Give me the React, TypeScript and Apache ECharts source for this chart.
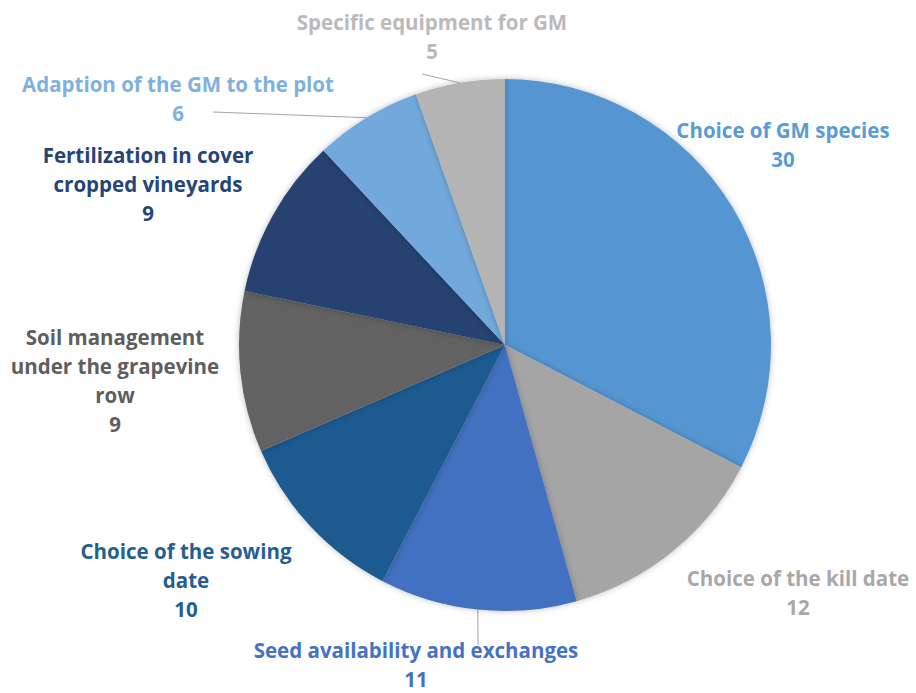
import React, { useEffect, useRef } from "react";
import * as echarts from "echarts";

const categories = [
  "Choice of GM species",
  "Choice of the kill date",
  "Seed availability and exchanges",
  "Choice of the sowing\ndate",
  "Soil management\nunder the grapevine\nrow",
  "Fertilization in cover\ncropped vineyards",
  "Adaption of the GM to the plot",
  "Specific equipment for GM",
];
const values = [30, 12, 11, 10, 9, 9, 6, 5];
const sliceColors = ["#5596D2", "#A5A5A5", "#4371C1", "#1F5A90", "#626262", "#26426F", "#72A9DC", "#B4B4B4"];
const labelColors = ["#5B9BD5", "#A8A8A8", "#4472C4", "#255E91", "#5E5E5E", "#264478", "#7EB1DF", "#BABABA"];
const labelPos: [number, number][] = [
  [783, 144],
  [798, 592],
  [416, 664],
  [186, 580],
  [115, 380],
  [148, 184],
  [178, 98],
  [432, 36],
];
// end point of the leader line (near the label), null = no line
const lineEnd: ([number, number] | null)[] = [null, null, [478, 645], null, null, null, [213, 112], [422, 74]];

export default function App() {
  const ref = useRef<HTMLDivElement>(null);
  useEffect(() => {
    document.body.style.margin = "0";
    const chart = echarts.init(ref.current!, null, { renderer: "svg" });
    chart.setOption({
      animation: false,
      backgroundColor: "#ffffff",
      series: [
        {
          type: "pie",
          center: [505, 345],
          radius: 266,
          startAngle: 90,
          clockwise: true,
          data: categories.map((name, i) => ({
            name,
            value: values[i],
            itemStyle: { color: sliceColors[i] },
            label: { color: labelColors[i] },
            labelLine: { show: lineEnd[i] !== null },
          })),
          itemStyle: {
            shadowBlur: 6,
            shadowColor: "rgba(0,0,0,0.25)",
          },
          label: {
            show: true,
            position: "outside",
            formatter: "{b}\n{c}",
            fontFamily: "Open Sans",
            fontWeight: "bold",
            fontSize: 20.5,
            lineHeight: 29,
            align: "center",
            overflow: "none",
          },
          labelLine: {
            lineStyle: { color: "#A6A6A6", width: 1 },
            length: 10,
            length2: 10,
          },
          labelLayout: (params: any) => {
            const i = params.dataIndex;
            const p = labelPos[i];
            const out: any = { x: p[0], y: p[1], align: "center", verticalAlign: "middle" };
            const e = lineEnd[i];
            if (e && params.labelLinePoints) {
              const s = params.labelLinePoints[0];
              out.labelLinePoints = [
                [s[0], s[1]],
                [(s[0] + e[0]) / 2, (s[1] + e[1]) / 2],
                [e[0], e[1]],
              ];
            }
            return out;
          },
          emphasis: { disabled: true },
        },
      ],
    });
    return () => chart.dispose();
  }, []);
  return <div ref={ref} style={{ width: 916, height: 693 }} />;
}
